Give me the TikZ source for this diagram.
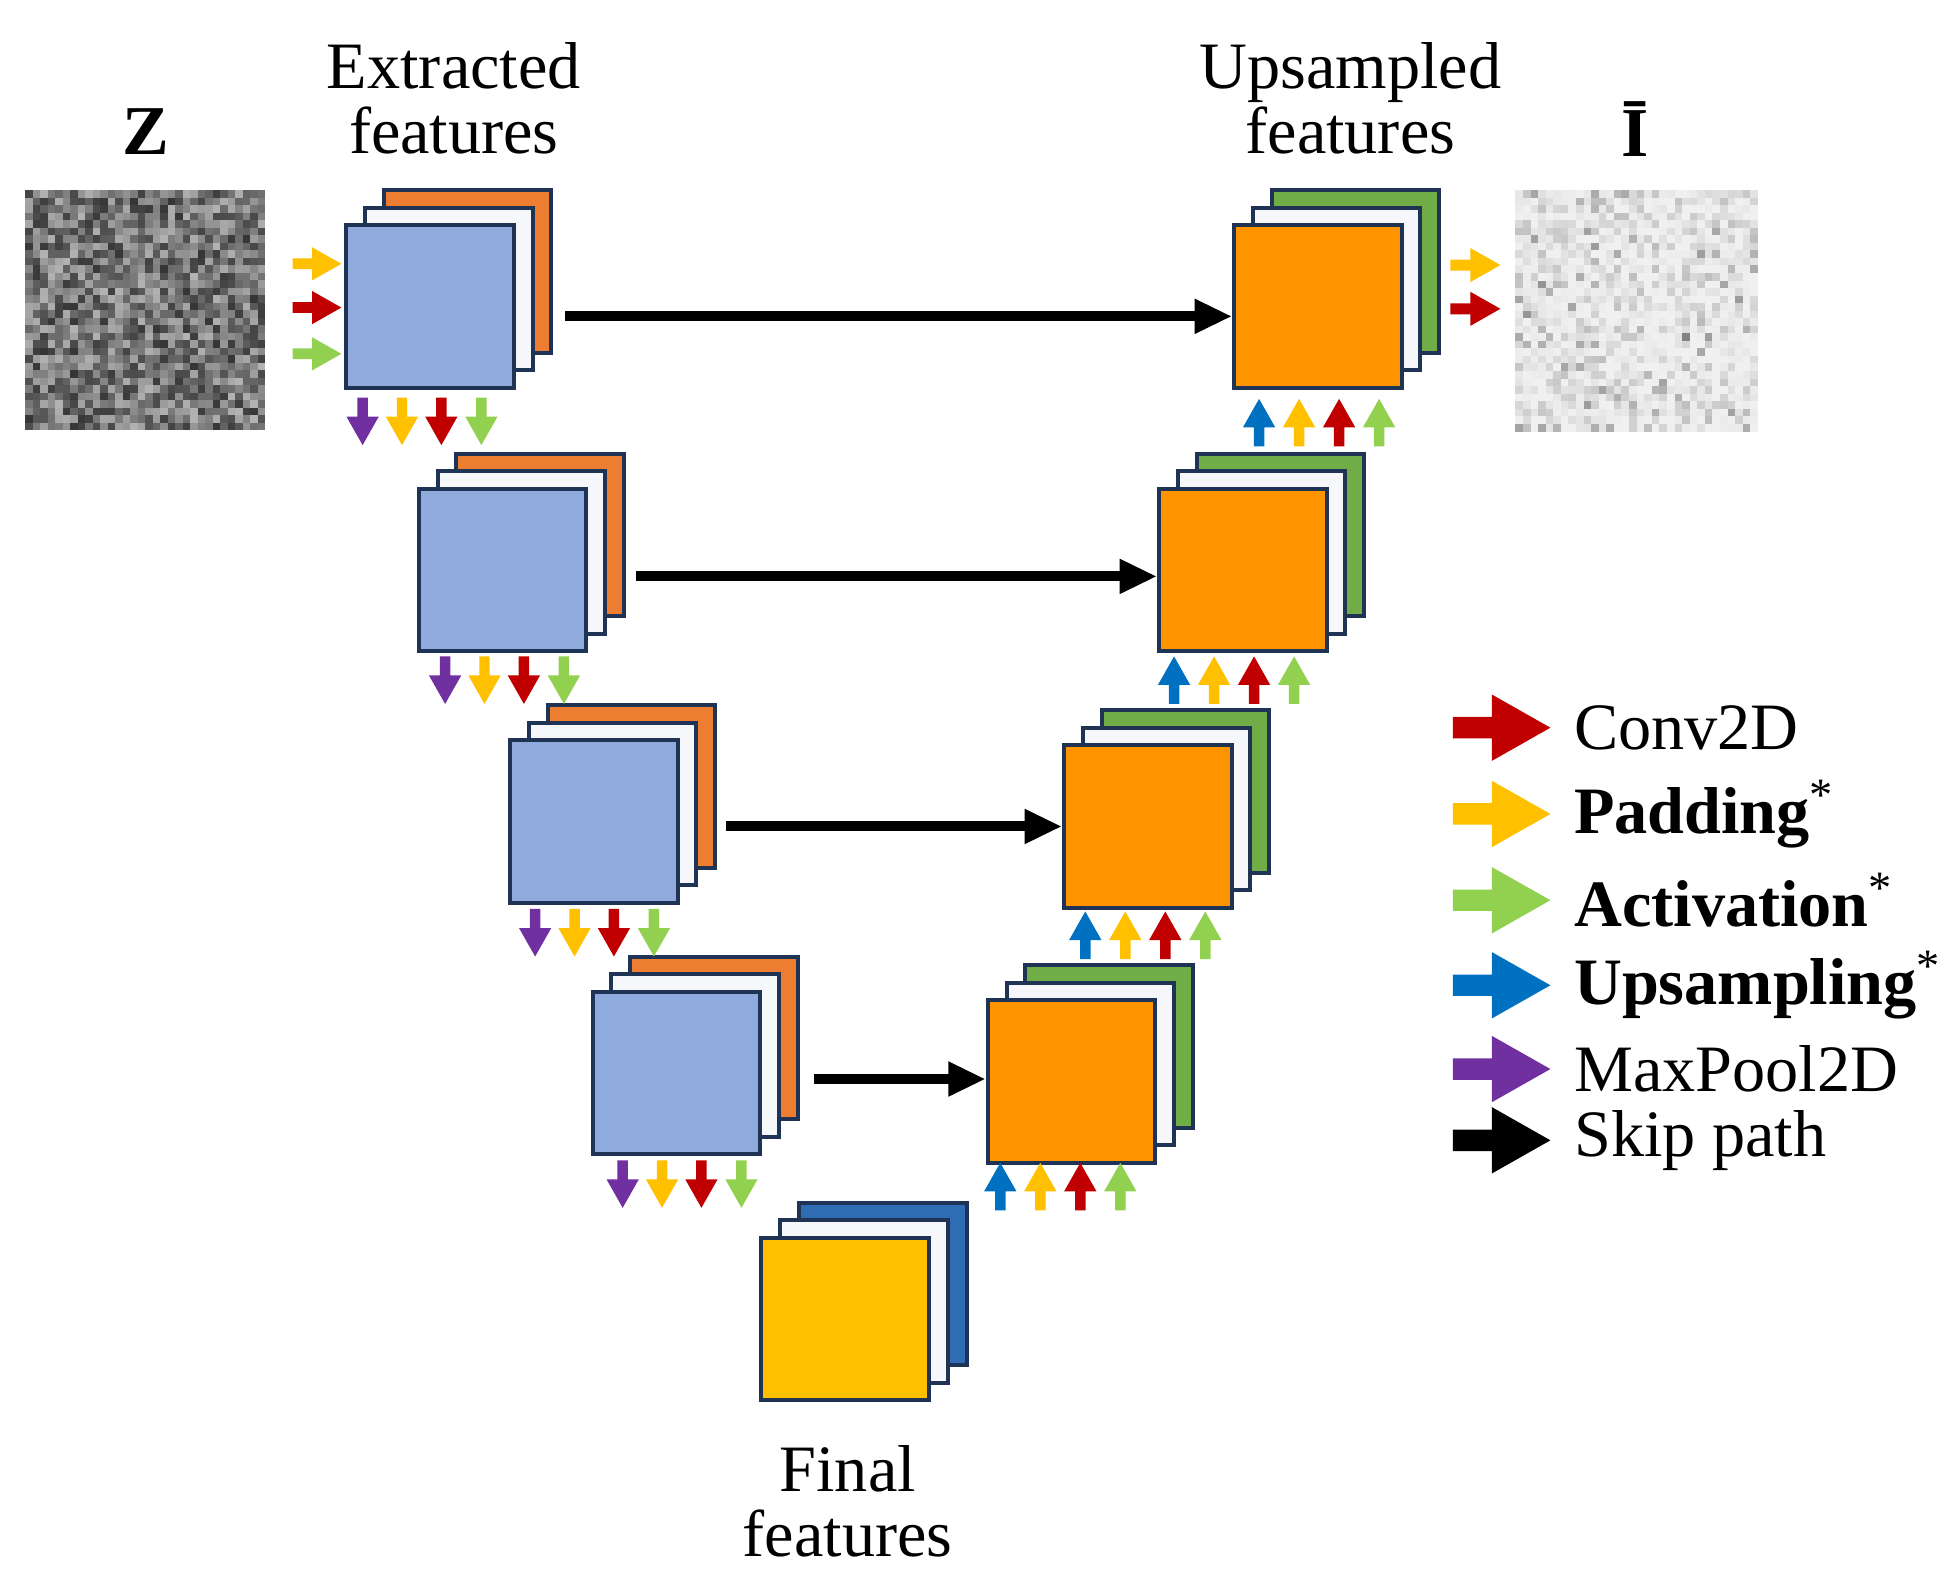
\documentclass[tikz,border=0pt]{standalone}
\usepackage{fontspec}
\setmainfont{Liberation Serif}
\usetikzlibrary{arrows.meta}
\definecolor{edge}{HTML}{1F3355}
\definecolor{eblue}{HTML}{8FAADC}
\definecolor{eorange}{HTML}{ED7D31}
\definecolor{ewhite}{HTML}{F5F7FB}
\definecolor{dorange}{HTML}{FF9300}
\definecolor{dgreen}{HTML}{70AD47}
\definecolor{fyellow}{HTML}{FFC000}
\definecolor{fblue}{HTML}{2E6DB4}
\definecolor{aR}{HTML}{C00000}
\definecolor{aY}{HTML}{FFC000}
\definecolor{aG}{HTML}{92D050}
\definecolor{aB}{HTML}{0070C0}
\definecolor{aP}{HTML}{7030A0}
\newcommand{\myarr}[5]{% x y angle color length
  \fill[#4,shift={(#1,#2)},rotate=#3,x=#5*0.5pt,y=#5*0.5pt]
   (0,0.11)--(0.4,0.11)--(0.4,0.34)--(1,0)--(0.4,-0.34)--(0.4,-0.11)--(0,-0.11)--cycle;}
\newcommand{\myast}{\textsuperscript{*}}
\tikzset{
 blk/.style={draw=edge,line width=1.6pt,minimum width=67pt,minimum height=65pt,inner sep=0pt},
 skip/.style={line width=4pt,-{Triangle[length=15pt,width=13pt]}},
 lbl/.style={font=\fontsize{26.5}{30}\selectfont,align=center},
}
\begin{document}
\begin{tikzpicture}[x=0.5pt,y=-0.5pt]
\useasboundingbox (0,0) rectangle (1566,1268);
% stacks
\newcommand{\stack}[5]{% name cx cy frontcolor backcolor
  \node[blk,fill=#5] (#1c) at (#2+30,#3-28) {};
  \node[blk,fill=ewhite] (#1b) at (#2+15,#3-14) {};
  \node[blk,fill=#4] (#1a) at (#2,#3) {};}
\stack{e1}{344}{245}{eblue}{eorange}
\stack{e2}{402}{456}{eblue}{eorange}
\stack{e3}{475}{657}{eblue}{eorange}
\stack{e4}{541}{858}{eblue}{eorange}
\stack{d1}{1054}{245}{dorange}{dgreen}
\stack{d2}{994}{456}{dorange}{dgreen}
\stack{d3}{918}{661}{dorange}{dgreen}
\stack{d4}{857}{865}{dorange}{dgreen}
\stack{f}{676}{1055}{fyellow}{fblue}
% skip paths
\coordinate (s1) at (452,253); \coordinate (s2) at (509,461);
\coordinate (s3) at (581,661); \coordinate (s4) at (651,863);
\draw[skip] (s1) -- (d1a.west |- s1);
\draw[skip] (s2) -- (d2a.west |- s2);
\draw[skip] (s3) -- (d3a.west |- s3);
\draw[skip] (s4) -- (d4a.west |- s4);
% noise image Z
\pgfmathsetseed{7}
\foreach \i in {0,...,31}{\foreach \j in {0,...,31}{
  \pgfmathsetmacro\g{int(30+50*rnd)}
  \fill[black!\g] (20+\i*6,152+\j*6) rectangle ++(6.3,6.3);}}
\node[inner sep=0pt,minimum width=96pt,minimum height=96.5pt] (zimg) at (116,248.5) {};
% output image
\foreach \i in {0,...,31}{\foreach \j in {0,...,31}{
  \pgfmathsetmacro\g{int(6+55*rnd*rnd*rnd)}
  \fill[black!\g] (1212+\i*6.06,152+\j*6.03) rectangle ++(6.4,6.4);}}
\node[inner sep=0pt,minimum width=97pt,minimum height=96.5pt] (iimg) at (1309,248.5) {};
% input/output arrows
\myarr{234}{211}{0}{aY}{39}\myarr{234}{246}{0}{aR}{39}\myarr{234}{283}{0}{aG}{39}
\myarr{1160}{212}{0}{aY}{40}\myarr{1160}{247}{0}{aR}{40}
% down arrows
\foreach \x/\y in {290/318,356/525,428/727,498/928}{
  \myarr{\x}{\y}{-90}{aP}{38}\myarr{\x+31.5}{\y}{-90}{aY}{38}
  \myarr{\x+63}{\y}{-90}{aR}{38}\myarr{\x+95}{\y}{-90}{aG}{38}}
% up arrows
\foreach \x/\y in {1007/357,939/563,868/767,800/968}{
  \myarr{\x}{\y}{90}{aB}{38}\myarr{\x+32}{\y}{90}{aY}{38}
  \myarr{\x+64}{\y}{90}{aR}{38}\myarr{\x+96}{\y}{90}{aG}{38}}
% labels
\node[lbl,font=\fontsize{28}{30}\selectfont\bfseries] (zl) at (117,105) {Z};
\node[lbl,font=\fontsize{28}{30}\selectfont\bfseries] (il) at (1308,103) {Ī};
\node[lbl] (el) at (363,79) {Extracted\\[-4pt]features};
\node[lbl] (ul) at (1080,79) {Upsampled\\[-4pt]features};
\node[lbl] (fl) at (678,1201) {Final\\[-4pt]features};
% legend
\foreach \y/\c/\t in {582/aR/Conv2D,651/aY/\textbf{Padding}\myast,720/aG/\textbf{Activation}\myast,788/aB/\textbf{Upsampling}\myast,855/aP/MaxPool2D,912/black/Skip path}{
  \myarr{1162}{\y}{0}{\c}{78}
  \node[lbl,anchor=west] at (1252,\y) {\t};}
\end{tikzpicture}
\end{document}
